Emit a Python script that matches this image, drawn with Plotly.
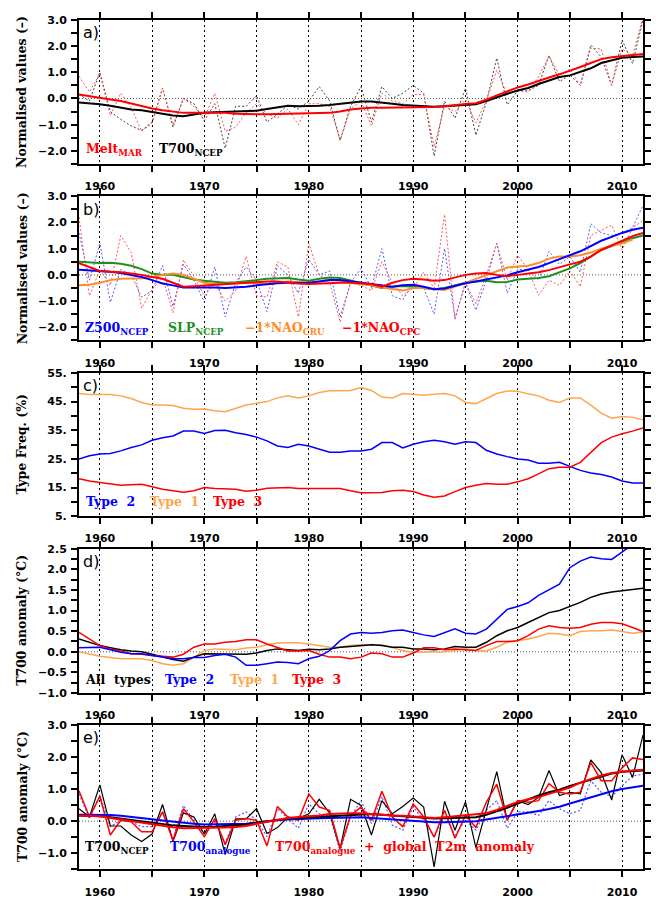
import plotly.graph_objects as go

years = list(range(1958, 2013))

# ---------------- panel a ----------------
a_melt = [0.85, 0.25, 0.95, -0.65, 0.2, -0.35, -1.25, -0.95, 0.4, -1.0,
          0.0, -0.3, -0.75, 0.2, -1.25, -1.1, -0.55, -0.2, -0.6, -0.75,
          -0.4, -1.0, -0.2, -0.2, -0.3, -1.6, -0.4, -0.1, -1.05, 0.2,
          -0.1, -0.2, 0.15, 0.15, -1.85, -0.3, -0.5, -0.05, -0.93, -0.1,
          1.08, 0.14, 0.33, 0.24, 0.83, 1.62, 0.89, 1.12, 0.49, 1.92,
          1.89, 0.51, 1.89, 1.64, 3.1]
a_t700 = [0.15, -0.1, 1.0, -0.5, -0.8, -1.05, -1.22, -0.9, 0.4, -1.1,
          0.0, -0.2, -0.85, -0.2, -1.9, -0.3, -0.3, 0.1, -0.9, -0.6,
          -0.25, -0.4, -0.1, 0.45, -0.1, -1.6, -0.3, 0.45, -0.9, 0.45,
          0.0, 0.2, 0.5, 0.2, -2.2, -0.1, -0.75, 0.39, -1.4, -0.15,
          1.54, -0.24, 0.29, 0.29, 0.5, 1.64, 0.64, 0.9, 0.5, 2.04,
          1.58, 0.5, 2.23, 1.33, 3.0]
a_melt_s = [0.15, 0.08, 0.02, -0.04, -0.1, -0.2, -0.3, -0.38, -0.45, -0.5,
            -0.55, -0.55, -0.55, -0.55, -0.55, -0.58, -0.6, -0.6, -0.6, -0.59,
            -0.58, -0.58, -0.58, -0.57, -0.55, -0.5, -0.42, -0.38, -0.35, -0.35,
            -0.35, -0.34, -0.33, -0.33, -0.33, -0.3, -0.25, -0.21, -0.18, -0.05,
            0.12, 0.27, 0.42, 0.53, 0.65, 0.8, 0.92, 1.05, 1.2, 1.35,
            1.5, 1.57, 1.62, 1.66, 1.7]
a_t700_s = [-0.15, -0.18, -0.22, -0.28, -0.35, -0.42, -0.45, -0.52, -0.6, -0.65,
            -0.68, -0.62, -0.55, -0.53, -0.52, -0.5, -0.5, -0.47, -0.4, -0.33,
            -0.28, -0.3, -0.3, -0.28, -0.25, -0.2, -0.16, -0.12, -0.12, -0.15,
            -0.2, -0.25, -0.28, -0.3, -0.32, -0.3, -0.27, -0.24, -0.22, -0.1,
            0.05, 0.18, 0.3, 0.4, 0.55, 0.7, 0.82, 0.88, 1.0, 1.15,
            1.35, 1.45, 1.55, 1.58, 1.6]

# ---------------- panel b ----------------
b_z500 = [1.6, -0.2, 1.2, -1.05, 0.2, 0.0, -0.85, -0.6, 0.35, -1.2,
          0.4, -0.2, -1.05, 0.3, -1.6, -0.3, 0.3, -0.2, -1.4, 0.35,
          0.0, -0.7, 0.6, 0.0, 0.15, -1.6, -0.3, 0.25, -0.5, 1.0,
          -0.8, -0.95, -0.3, -0.5, -1.5, 1.0, -1.65, -0.3, -1.35, -0.2,
          1.2, -0.7, 0.2, 0.2, -0.2, 0.9, 0.4, 0.7, 0.1, 1.95,
          1.6, 1.5, 1.6, 1.8, 2.65]
b_cpc = [2.2, -0.8, 0.2, -0.4, 1.5, 0.85, -1.27, -0.55, -0.1, -1.45,
         0.57, -0.05, -0.8, -0.3, -1.0, -0.6, 0.7, -0.8, -0.85, 0.5,
         0.3, -1.6, 1.2, 0.0, -0.3, -1.8, -0.3, -0.4, -0.6, 0.5,
         -0.3, -0.8, -0.5, 0.1, -0.5, 2.3, -1.7, -0.3, -1.1, 0.0,
         1.2, -0.2, 0.75, 0.2, -0.78, -0.2, -0.4, 0.15, -0.45, 1.5,
         1.7, 1.9, 0.95, 1.8, 2.07]
b_z500_s = [0.2, 0.18, 0.15, 0.12, 0.07, 0.0, -0.08, -0.2, -0.33, -0.4,
            -0.48, -0.48, -0.47, -0.48, -0.5, -0.48, -0.45, -0.4, -0.35, -0.32,
            -0.3, -0.3, -0.3, -0.25, -0.2, -0.2, -0.25, -0.3, -0.35, -0.42,
            -0.45, -0.4, -0.38, -0.45, -0.55, -0.52, -0.42, -0.32, -0.25, -0.18,
            -0.1, -0.02, 0.1, 0.2, 0.3, 0.45, 0.6, 0.75, 0.9, 1.1,
            1.3, 1.45, 1.6, 1.72, 1.8]
b_slp_s = [0.5, 0.47, 0.45, 0.46, 0.42, 0.35, 0.22, 0.05, 0.0, 0.0,
           -0.08, -0.18, -0.22, -0.27, -0.3, -0.28, -0.25, -0.2, -0.15, -0.13,
           -0.12, -0.18, -0.22, -0.15, -0.1, -0.12, -0.22, -0.32, -0.4, -0.5,
           -0.45, -0.42, -0.45, -0.5, -0.55, -0.5, -0.4, -0.3, -0.25, -0.22,
           -0.28, -0.27, -0.18, -0.15, -0.12, -0.05, 0.1, 0.25, 0.45, 0.7,
           0.95, 1.1, 1.25, 1.4, 1.5]
b_cru_s = [-0.4, -0.38, -0.3, -0.2, -0.15, -0.13, -0.13, -0.08, 0.0, 0.05,
           0.0, -0.15, -0.3, -0.35, -0.35, -0.32, -0.3, -0.32, -0.35, -0.3,
           -0.25, -0.28, -0.3, -0.25, -0.2, -0.22, -0.3, -0.35, -0.4, -0.48,
           -0.55, -0.6, -0.5, -0.5, -0.55, -0.58, -0.45, -0.3, -0.15, 0.0,
           0.15, 0.28, 0.32, 0.35, 0.45, 0.62, 0.7, 0.7, 0.75, 0.85,
           1.0, 1.1, 1.2, 1.35]
b_cpc_s = [0.45, 0.3, 0.15, 0.12, 0.1, 0.05, 0.0, -0.08, -0.15, -0.3,
           -0.45, -0.43, -0.4, -0.38, -0.35, -0.32, -0.3, -0.28, -0.25, -0.25,
           -0.3, -0.33, -0.35, -0.33, -0.3, -0.3, -0.3, -0.32, -0.35, -0.45,
           -0.3, -0.2, -0.15, -0.18, -0.22, -0.2, -0.1, 0.0, 0.05, 0.07,
           0.0, -0.05, 0.0, 0.05, 0.1, 0.18, 0.3, 0.4, 0.5, 0.7,
           0.95, 1.12, 1.3, 1.48, 1.6]

# ---------------- panel c ----------------
c_type1 = [47.8, 47.5, 47.5, 47.5, 47.0, 46.1, 44.7, 43.8, 43.8, 43.6,
           42.7, 42.3, 42.4, 41.8, 41.5, 42.7, 43.8, 44.4, 45.0, 46.3,
           47.0, 46.3, 47.0, 48.2, 48.8, 48.8, 48.9, 49.9, 48.9, 46.6,
           46.3, 47.8, 47.5, 47.2, 47.6, 47.8, 47.0, 44.7, 44.3, 46.1,
           47.8, 48.7, 48.6, 47.7, 47.0, 45.5, 44.7, 46.3, 46.3, 43.8,
           41.0, 39.2, 39.8, 39.5, 38.7]
c_type2 = [25.0, 26.1, 26.7, 26.9, 27.8, 29.0, 29.9, 31.5, 32.4, 33.0,
           34.7, 34.7, 33.9, 34.9, 35.0, 34.1, 33.5, 32.6, 31.3, 29.5,
           29.0, 30.1, 29.5, 28.4, 27.3, 27.3, 27.8, 27.8, 28.4, 30.7,
           30.7, 28.8, 30.1, 31.0, 31.5, 31.0, 30.1, 31.0, 30.7, 28.0,
           26.7, 25.8, 25.0, 24.6, 23.5, 23.5, 23.8, 22.4, 21.0, 20.1,
           19.6, 18.7, 17.3, 16.6, 16.6]
c_type3 = [18.1, 17.3, 16.8, 16.4, 15.8, 16.0, 16.2, 15.3, 14.4, 13.9,
           13.4, 13.9, 15.0, 14.7, 14.6, 14.4, 13.7, 14.1, 14.8, 15.0,
           15.0, 14.7, 14.7, 14.9, 14.9, 14.7, 13.9, 13.2, 13.2, 13.3,
           13.9, 14.1, 13.6, 12.4, 11.6, 12.1, 13.6, 15.0, 15.8, 16.4,
           16.2, 16.2, 17.0, 18.1, 19.8, 21.6, 22.1, 22.1, 23.8, 27.3,
           30.7, 32.6, 33.8, 34.7, 35.8]

# ---------------- panel d ----------------
d_all = [0.31, 0.23, 0.15, 0.1, 0.05, 0.02, 0.0, -0.06, -0.13, -0.19,
         -0.23, -0.13, -0.05, -0.05, -0.05, -0.05, -0.06, -0.03, 0.03, 0.07,
         0.05, 0.03, 0.06, 0.05, 0.07, 0.11, 0.13, 0.15, 0.17, 0.15,
         0.11, 0.11, 0.07, 0.07, 0.05, 0.07, 0.13, 0.11, 0.11, 0.23,
         0.39, 0.51, 0.59, 0.71, 0.83, 0.95, 1.0, 1.1, 1.2, 1.32,
         1.4, 1.45, 1.48, 1.5, 1.54]
d_type2 = [0.1, 0.11, 0.11, 0.05, -0.01, -0.05, -0.05, -0.09, -0.13, -0.17,
           -0.17, -0.14, -0.14, -0.09, -0.06, -0.13, -0.33, -0.33, -0.29, -0.25,
           -0.26, -0.29, -0.17, -0.11, 0.03, 0.27, 0.43, 0.47, 0.45, 0.47,
           0.51, 0.53, 0.47, 0.41, 0.37, 0.47, 0.56, 0.45, 0.43, 0.55,
           0.79, 1.03, 1.1, 1.19, 1.37, 1.5, 1.64, 2.04, 2.2, 2.3,
           2.26, 2.24, 2.42, 2.6, 2.7]
d_type1 = [0.0, -0.06, -0.11, -0.14, -0.17, -0.17, -0.17, -0.21, -0.29, -0.33,
           -0.29, -0.13, 0.03, 0.07, 0.06, 0.05, 0.09, 0.11, 0.17, 0.21,
           0.22, 0.22, 0.19, 0.15, 0.11, 0.11, 0.15, 0.17, 0.17, 0.17,
           0.1, 0.03, -0.01, -0.01, -0.01, 0.0, 0.03, 0.07, 0.03, 0.02,
           0.11, 0.23, 0.27, 0.31, 0.37, 0.45, 0.43, 0.39, 0.49, 0.51,
           0.51, 0.53, 0.49, 0.45, 0.48]
d_type3 = [0.47, 0.31, 0.15, 0.07, 0.02, -0.05, -0.06, -0.09, -0.11, -0.13,
           -0.06, 0.11, 0.19, 0.19, 0.23, 0.25, 0.29, 0.29, 0.19, 0.1,
           0.02, 0.02, 0.03, -0.06, -0.13, -0.13, -0.17, -0.13, -0.03, -0.05,
           -0.13, -0.13, -0.03, 0.1, 0.1, 0.05, 0.07, 0.05, 0.03, 0.15,
           0.25, 0.25, 0.27, 0.39, 0.55, 0.63, 0.59, 0.57, 0.59, 0.67,
           0.71, 0.71, 0.68, 0.59, 0.49]

# ---------------- panel e ----------------
e_ncep = [0.39, 0.13, 1.13, -0.15, -0.15, -0.43, -0.63, -0.4, 0.52, -0.63,
          0.26, 0.13, -0.4, 0.23, -1.04, 0.07, 0.07, 0.39, -0.38, -0.2,
          0.13, 0.08, 0.23, 0.68, 0.25, -0.85, 0.68, 0.49, -0.43, 0.64,
          0.23, 0.46, 0.72, 0.44, -1.42, 0.62, -0.28, 0.6, -0.82, 0.34,
          1.54, 0.03, 0.64, 0.52, 0.74, 1.58, 0.8, 0.9, 0.85, 1.91,
          1.51, 0.66, 2.07, 1.36, 2.68]
e_analog = [0.85, 0.08, 0.8, -0.17, 0.03, -0.02, -0.17, -0.17, 0.29, -0.53,
            0.49, 0.03, -0.38, -0.02, -0.68, 0.13, 0.29, 0.03, -0.48, 0.39,
            0.08, -0.22, 0.54, 0.23, 0.18, -0.94, 0.13, 0.64, -0.07, 0.77,
            -0.12, -0.28, 0.44, 0.03, -0.5, 0.18, -0.43, 0.03, -0.28, 0.34,
            0.64, -0.22, 0.29, 0.29, 0.18, 0.64, 0.39, 0.23, 0.34, 1.26,
            0.9, 0.77, 1.1, 1.41, 1.46]
e_glob = [0.95, 0.13, 0.77, -0.43, 0.03, -0.02, -0.33, -0.33, 0.29, -0.6,
          0.39, -0.02, -0.48, 0.08, -0.73, 0.03, 0.08, 0.03, -0.77, 0.46,
          0.13, 0.03, 0.85, 0.44, 0.34, -0.84, 0.18, 0.44, 0.03, 0.93,
          0.13, -0.17, 0.54, 0.13, -0.5, 0.34, -0.53, 0.18, -0.19, 0.59,
          1.15, 0.03, 0.64, 0.59, 0.64, 1.17, 0.9, 0.85, 0.9, 1.82,
          1.26, 1.26, 1.66, 1.97, 1.92]
e_ncep_s = [0.18, 0.17, 0.15, 0.12, 0.08, 0.04, 0.0, -0.05, -0.1, -0.13,
            -0.15, -0.17, -0.18, -0.17, -0.15, -0.12, -0.1, -0.05, 0.0, 0.04,
            0.08, 0.1, 0.12, 0.13, 0.15, 0.18, 0.2, 0.21, 0.22, 0.2,
            0.18, 0.15, 0.12, 0.1, 0.08, 0.09, 0.1, 0.11, 0.12, 0.2,
            0.3, 0.42, 0.55, 0.68, 0.8, 0.9, 0.98, 1.1, 1.2, 1.3,
            1.4, 1.48, 1.54, 1.57, 1.58]
e_analog_s = [0.2, 0.2, 0.2, 0.19, 0.17, 0.14, 0.1, 0.06, 0.02, -0.02,
              -0.05, -0.08, -0.1, -0.1, -0.1, -0.09, -0.08, -0.04, 0.0, 0.03,
              0.05, 0.07, 0.08, 0.09, 0.1, 0.11, 0.12, 0.12, 0.1, 0.08,
              0.05, 0.02, 0.0, -0.02, -0.03, -0.03, -0.02, 0.0, 0.0, 0.05,
              0.1, 0.15, 0.2, 0.26, 0.32, 0.38, 0.45, 0.55, 0.65, 0.75,
              0.85, 0.93, 1.0, 1.06, 1.1]
e_glob_s = [0.18, 0.17, 0.15, 0.1, 0.05, 0.0, -0.05, -0.1, -0.15, -0.19,
            -0.22, -0.22, -0.22, -0.21, -0.2, -0.18, -0.15, -0.08, -0.02, 0.04,
            0.1, 0.13, 0.15, 0.18, 0.22, 0.24, 0.25, 0.25, 0.22, 0.2,
            0.18, 0.17, 0.15, 0.12, 0.1, 0.12, 0.15, 0.18, 0.2, 0.25,
            0.35, 0.48, 0.6, 0.68, 0.75, 0.85, 0.95, 1.05, 1.2, 1.32,
            1.42, 1.5, 1.55, 1.58, 1.6]

x_label_years = list(range(1960, 2011, 10))

# ---------------- layout geometry ----------------
W, H = 656, 903
X0, X1 = 79, 643
panels_px = [(14, 160.3), (193, 339.3), (372.3, 517.7), (550.7, 697), (729.3, 876)]

RED = "#ff0000"
RED_D = "#ff5555"
BLUE = "#0000ff"
BLUE_D = "#5a5aff"
BLACK_D = "#444444"
GREEN = "#1f8f1f"
ORANGE = "#ff8c2a"
LORANGE = "#ffa64d"

fig = go.Figure()


def axn(i):
    return ("x", "y") if i == 0 else (f"x{i+1}", f"y{i+1}")


def add(i, y, color, width, dash="solid"):
    xa, ya = axn(i)
    fig.add_trace(go.Scatter(x=years[:len(y)], y=y, mode="lines",
                             line=dict(color=color, width=width, dash=dash),
                             xaxis=xa, yaxis=ya, showlegend=False,
                             hoverinfo="skip"))


DOT = "2px,2px"
# a
add(0, a_t700, BLACK_D, 1, DOT)
add(0, a_melt, RED_D, 1, DOT)
add(0, a_t700_s, "black", 2)
add(0, a_melt_s, RED, 2)
# b
add(1, b_z500, BLUE_D, 1, DOT)
add(1, b_cpc, RED_D, 1, DOT)
add(1, b_slp_s, GREEN, 2)
add(1, b_cru_s, ORANGE, 2)
add(1, b_z500_s, BLUE, 2)
add(1, b_cpc_s, RED, 2)
# c
add(2, c_type1, LORANGE, 1.5)
add(2, c_type2, BLUE, 1.5)
add(2, c_type3, RED, 1.5)
# d
add(3, d_type1, LORANGE, 1.5)
add(3, d_all, "black", 1.5)
add(3, d_type3, RED, 1.5)
add(3, d_type2, BLUE, 1.5)
# e
add(4, e_analog, BLUE_D, 1.2, DOT)
add(4, e_ncep, "black", 1.2)
add(4, e_glob, RED, 1.5)
add(4, e_analog_s, BLUE, 2)
add(4, e_ncep_s, "black", 2)
add(4, e_glob_s, RED, 2)

tickfont = dict(family="DejaVu Sans", size=11, color="black", weight="bold")
layout = dict(width=W, height=H, margin=dict(l=0, r=0, t=0, b=0),
              paper_bgcolor="white", plot_bgcolor="white", showlegend=False)

yspecs = [
    dict(range=[-2.5, 3.0], tickmode="linear", tick0=0, dtick=1, tickformat=".1f", minor_dtick=0.5),
    dict(range=[-2.5, 3.0], tickmode="linear", tick0=0, dtick=1, tickformat=".1f", minor_dtick=0.5),
    dict(range=[5, 55], tickmode="array", tickvals=[5, 15, 25, 35, 45, 55],
         ticktext=["5.", "15.", "25.", "35.", "45.", "55."], minor_dtick=5),
    dict(range=[-1.0, 2.5], tickmode="linear", tick0=0, dtick=0.5, tickformat=".1f", minor_dtick=0.25),
    dict(range=[-1.5, 3.0], tickmode="linear", tick0=0, dtick=1, tickformat=".1f", minor_dtick=0.5),
]

GRIDDASH = "2px,3px"
shapes = []
for i, (top, bot) in enumerate(panels_px):
    xa, ya = axn(i)
    xkey = "xaxis" if i == 0 else f"xaxis{i+1}"
    ykey = "yaxis" if i == 0 else f"yaxis{i+1}"
    layout[xkey] = dict(
        domain=[X0 / W, X1 / W], range=[1958, 2012], anchor=ya,
        tickmode="array", tickvals=x_label_years,
        ticktext=[str(v) for v in x_label_years],
        ticks="outside", ticklen=6, tickwidth=2, tickcolor="black",
        showline=True, linewidth=2, linecolor="black", mirror="allticks",
        showgrid=True, gridcolor="black", gridwidth=1, griddash=GRIDDASH,
        minor=dict(tickmode="linear", tick0=1960, dtick=5, ticks="outside",
                   ticklen=6, tickwidth=2, tickcolor="black",
                   showgrid=True, gridcolor="black", gridwidth=1,
                   griddash=GRIDDASH),
        zeroline=False, tickfont=tickfont, ticklabelstandoff=5,
        fixedrange=True)
    spec = dict(yspecs[i])
    mdt = spec.pop("minor_dtick")
    layout[ykey] = dict(
        domain=[1 - bot / H, 1 - top / H], anchor=xa,
        ticks="outside", ticklen=6, tickwidth=2, tickcolor="black",
        showline=True, linewidth=2, linecolor="black", mirror="allticks",
        showgrid=False, zeroline=False, tickfont=tickfont,
        ticklabelstandoff=2, fixedrange=True,
        minor=dict(tickmode="linear", tick0=0, dtick=mdt, ticks="outside",
                   ticklen=6, tickwidth=2, tickcolor="black", showgrid=False),
        **spec)
    if i != 2:
        shapes.append(dict(type="line", xref=f"{xa} domain", x0=0, x1=1,
                           yref=ya, y0=0, y1=0,
                           line=dict(color="#555555", width=1, dash="1px,2px"),
                           layer="below"))
layout["shapes"] = shapes

ann = []
SERIF = "DejaVu Serif"
SP = " \u00a0"  # wide gap, as in the original lettering


def px_ann(text, x, y, color="black", size=12.5, family=SERIF, weight="bold",
           xanchor="left", angle=0):
    ann.append(dict(text=text, x=x / W, y=1 - y / H, xref="paper", yref="paper",
                    xanchor=xanchor, yanchor="middle", showarrow=False,
                    textangle=angle,
                    font=dict(family=family, size=size, color=color, weight=weight)))


# y titles
ytitles = ["Normalised values (–)", "Normalised values (–)", "Type Freq. (%)",
           "T700 anomaly (°C)", "T700 anomaly (°C)"]
for (top, bot), t in zip(panels_px, ytitles):
    px_ann(t, 22, (top + bot) / 2, size=12.5, xanchor="center", angle=-90)

# panel labels
for (top, bot), lab in zip(panels_px, ["a)", "b)", "c)", "d)", "e)"]):
    px_ann(lab, 81, top + 13, size=16, family="DejaVu Sans", weight="normal")

# legends
px_ann("Melt<sub>MAR</sub>", 84, 146, RED)
px_ann("T700<sub>NCEP</sub>", 157, 146, "black")

px_ann("Z500<sub>NCEP</sub>", 83, 327, BLUE)
px_ann("SLP<sub>NCEP</sub>", 166, 327, GREEN)
px_ann("−1*NAO<sub>CRU</sub>", 243, 327, ORANGE)
px_ann("−1*NAO<sub>CPC</sub>", 340, 327, RED)

px_ann("Type" + SP + "2", 84, 503, BLUE)
px_ann("Type" + SP + "1", 148, 503, LORANGE)
px_ann("Type" + SP + "3", 211, 503, RED)

px_ann("All" + SP + "types", 83, 683, "black")
px_ann("Type" + SP + "2", 163, 683, BLUE)
px_ann("Type" + SP + "1", 228, 683, LORANGE)
px_ann("Type" + SP + "3", 290, 683, RED)

px_ann("T700<sub>NCEP</sub>", 83, 854, "black")
px_ann("T700<sub>analogue</sub>", 168, 854, BLUE)
px_ann("T700<sub>analogue</sub>" + SP + "+" + SP + "global" + SP + "T2m" + SP + "anomaly",
       273, 854, RED)

layout["annotations"] = ann
fig.update_layout(**layout)
fig.write_html("out.html",
               config={"displayModeBar": False, "responsive": False},
               post_script="document.body.style.margin='0px';document.body.style.overflow='hidden';")
